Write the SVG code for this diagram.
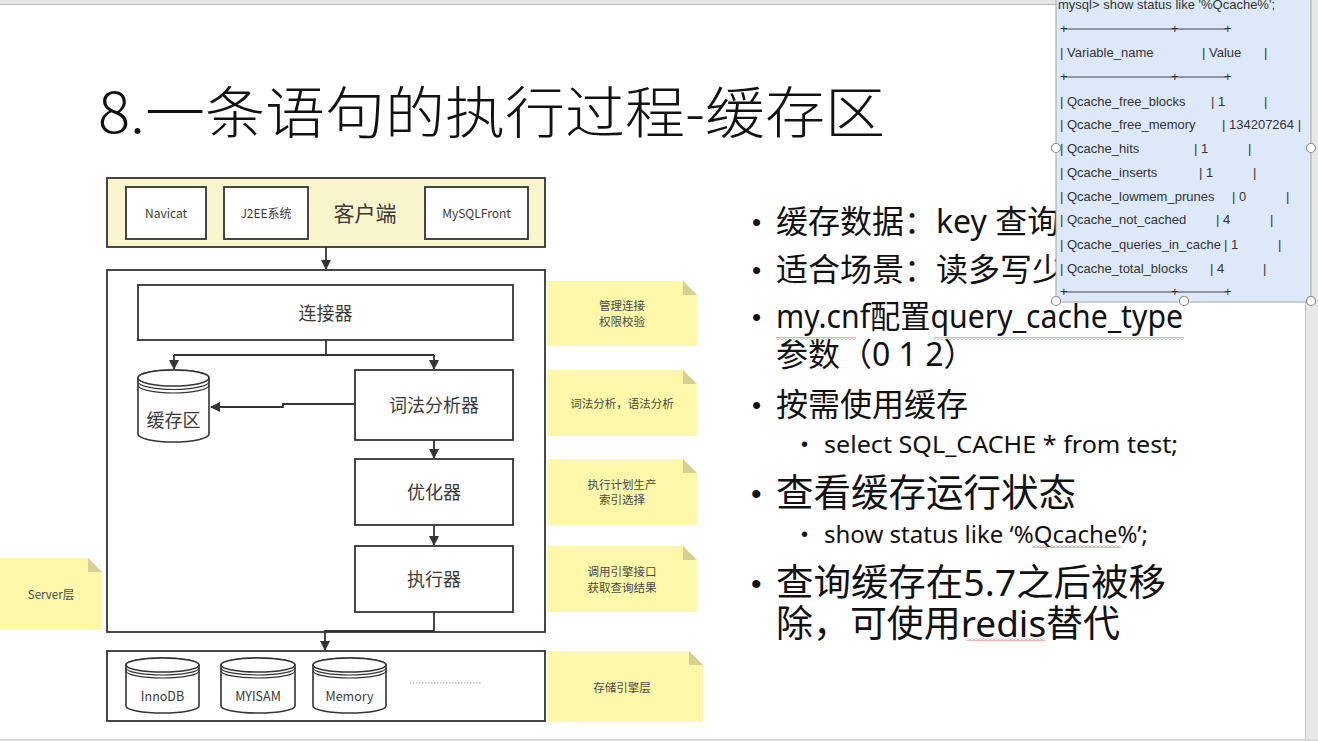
<svg xmlns="http://www.w3.org/2000/svg" width="1318" height="741" viewBox="0 0 1318 741">
<defs>
<style>
.cjk{font-family:"Noto Sans CJK SC","Noto Sans",sans-serif;}
.box{fill:#fff;stroke:#333;stroke-width:1.8;}
.lbl{font-family:"Noto Sans CJK SC","Noto Sans",sans-serif;fill:#3a3a3a;text-anchor:middle;}
.note{fill:#fcf7a9;}
.fold{fill:#d6d092;}
.ntxt{font-family:"Noto Sans CJK SC","Noto Sans",sans-serif;fill:#4a4a4a;font-size:11.5px;text-anchor:middle;}
.conn{fill:none;stroke:#333;stroke-width:1.8;}
.bul{font-family:"Noto Sans","Noto Sans CJK SC",sans-serif;fill:#111;}
.dot{font-family:"Liberation Sans",Arial,sans-serif;fill:#111;}
.mono{font-family:"Liberation Sans",Arial,sans-serif;font-size:13px;fill:#333;}
.cyl{fill:#fff;stroke:#333;stroke-width:1.6;}
.ring{fill:none;stroke:#333;stroke-width:1.2;}
</style>
<marker id="ah" viewBox="0 0 10 10" refX="9" refY="5" markerWidth="10" markerHeight="10" markerUnits="userSpaceOnUse" orient="auto">
<path d="M0,0 L10,5 L0,10 Z" fill="#333"/>
</marker>
<pattern id="sq" width="4" height="3" patternUnits="userSpaceOnUse">
<path d="M0,2.5 L2,0.5 L4,2.5" fill="none" stroke="#e03030" stroke-width="0.8"/>
</pattern>
</defs>
<rect width="1318" height="741" fill="#fff"/>
<!-- frame -->
<rect x="0" y="0" width="1318" height="4" fill="#e6e6e6"/>
<line x1="0" y1="4.5" x2="1318" y2="4.5" stroke="#bdbdbd" stroke-width="1"/>
<rect x="1305" y="0" width="13" height="741" fill="#e8e8e8"/>
<line x1="1305.5" y1="0" x2="1305.5" y2="741" stroke="#c4c4c4" stroke-width="1"/>
<rect x="0" y="739" width="1318" height="2" fill="#d8d8d8"/>

<!-- title -->
<text x="98" y="133" class="cjk" font-size="56" font-weight="300" fill="#111" textLength="787" lengthAdjust="spacingAndGlyphs">8.一条语句的执行过程-缓存区</text>

<!-- client layer -->
<g id="client">
<rect x="107" y="178" width="438" height="69" fill="#f9f5cc" stroke="#333" stroke-width="1.8"/>
<text x="365" y="221" class="lbl" font-size="21">客户端</text>
</g>
<g id="navicat"><rect x="126" y="187" width="80" height="52" class="box"/><text x="166" y="218" class="lbl" font-size="12">Navicat</text></g>
<g id="j2ee"><rect x="224" y="187" width="84" height="52" class="box"/><text x="266" y="218" class="lbl" font-size="12">J2EE系统</text></g>
<g id="mysqlfront"><rect x="425" y="187" width="103" height="52" class="box"/><text x="476.5" y="218" class="lbl" font-size="12">MySQLFront</text></g>

<!-- server layer -->
<g id="server"><rect x="107" y="270" width="438" height="362" class="box"/></g>
<g id="connector"><rect x="138" y="285" width="375" height="55" class="box"/><text x="325.5" y="320" class="lbl" font-size="18">连接器</text></g>
<g id="cache">
<path class="cyl" d="M138,378 A35.5,8 0 0 1 209,378 L209,434 A35.5,8 0 0 1 138,434 Z"/>
<ellipse cx="173.5" cy="378" rx="35.5" ry="8" class="cyl"/>
<path class="ring" d="M138,381.5 A35.5,8 0 0 0 209,381.5 M138,385 A35.5,8 0 0 0 209,385"/>
<text x="173.5" y="427" class="lbl" font-size="18">缓存区</text>
</g>
<g id="lexer"><rect x="355" y="370" width="158" height="70" class="box"/><text x="434" y="412" class="lbl" font-size="18">词法分析器</text></g>
<g id="optimizer"><rect x="355" y="459" width="158" height="66" class="box"/><text x="434" y="499" class="lbl" font-size="18">优化器</text></g>
<g id="executor"><rect x="355" y="546" width="158" height="66" class="box"/><text x="434" y="586" class="lbl" font-size="18">执行器</text></g>

<!-- storage layer -->
<g id="storage">
<rect x="107" y="651" width="438" height="70" class="box"/>
<line x1="410" y1="683" x2="482" y2="683" stroke="#999" stroke-width="1" stroke-dasharray="1.5,1.5"/>
</g>
<g id="innodb">
<path class="cyl" d="M126,665 A36.5,7 0 0 1 199,665 L199,706 A36.5,7 0 0 1 126,706 Z"/>
<ellipse cx="162.5" cy="665" rx="36.5" ry="7" class="cyl"/>
<path class="ring" d="M126,668 A36.5,7 0 0 0 199,668 M126,671 A36.5,7 0 0 0 199,671"/>
<text x="162.5" y="701" class="lbl" font-size="12.5">InnoDB</text>
</g>
<g id="myisam">
<path class="cyl" d="M221,665 A37,7 0 0 1 295,665 L295,706 A37,7 0 0 1 221,706 Z"/>
<ellipse cx="258" cy="665" rx="37" ry="7" class="cyl"/>
<path class="ring" d="M221,668 A37,7 0 0 0 295,668 M221,671 A37,7 0 0 0 295,671"/>
<text x="258" y="701" class="lbl" font-size="12.5">MYISAM</text>
</g>
<g id="memory">
<path class="cyl" d="M313,665 A36.5,7 0 0 1 386,665 L386,706 A36.5,7 0 0 1 313,706 Z"/>
<ellipse cx="349.5" cy="665" rx="36.5" ry="7" class="cyl"/>
<path class="ring" d="M313,668 A36.5,7 0 0 0 386,668 M313,671 A36.5,7 0 0 0 386,671"/>
<text x="349.5" y="701" class="lbl" font-size="12.5">Memory</text>
</g>

<!-- connectors -->
<g id="connectors">
<path class="conn" d="M326,247 L326,269" marker-end="url(#ah)"/>
<path class="conn" d="M326,340 L326,355 M174,355 L434,355"/>
<path class="conn" d="M174,355 L174,369" marker-end="url(#ah)"/>
<path class="conn" d="M434,355 L434,369" marker-end="url(#ah)"/>
<path class="conn" d="M355,404 L283,404 L283,407 L211,407" marker-end="url(#ah)"/>
<path class="conn" d="M434,440 L434,458" marker-end="url(#ah)"/>
<path class="conn" d="M434,525 L434,545" marker-end="url(#ah)"/>
<path class="conn" d="M434,612 L434,631 L325,631 L325,650" marker-end="url(#ah)"/>
</g>

<!-- sticky notes -->
<g id="note-conn"><path class="note" d="M547,281 L683,281 L697,295 L697,346 L547,346 Z"/><path class="fold" d="M683,281 L683,295 L697,295 Z"/><text class="ntxt" x="622" y="310">管理连接</text><text class="ntxt" x="622" y="326">权限校验</text></g>
<g id="note-lex"><path class="note" d="M547,370 L683,370 L697,384 L697,436 L547,436 Z"/><path class="fold" d="M683,370 L683,384 L697,384 Z"/><text class="ntxt" x="622" y="408">词法分析，语法分析</text></g>
<g id="note-opt"><path class="note" d="M547,459 L683,459 L697,473 L697,525 L547,525 Z"/><path class="fold" d="M683,459 L683,473 L697,473 Z"/><text class="ntxt" x="622" y="489">执行计划生产</text><text class="ntxt" x="622" y="504">索引选择</text></g>
<g id="note-exec"><path class="note" d="M547,546 L683,546 L697,560 L697,612 L547,612 Z"/><path class="fold" d="M683,546 L683,560 L697,560 Z"/><text class="ntxt" x="622" y="576">调用引擎接口</text><text class="ntxt" x="622" y="592">获取查询结果</text></g>
<g id="note-storage"><path class="note" d="M547,651 L689,651 L703,665 L703,722 L547,722 Z"/><path class="fold" d="M689,651 L689,665 L703,665 Z"/><text class="ntxt" x="622" y="692">存储引擎层</text></g>
<g id="note-server"><path class="note" d="M0,558 L88,558 L102,572 L102,630 L0,630 Z"/><path class="fold" d="M88,558 L88,572 L102,572 Z"/><text class="ntxt" x="51" y="599">Server层</text></g>

<!-- bullets -->
<g id="bullets">
<text class="dot" x="752" y="231" font-size="26">•</text>
<text class="bul" x="776" y="233" font-size="32">缓存数据：key 查询</text>
<text class="dot" x="752" y="279" font-size="26">•</text>
<text class="bul" x="776" y="281" font-size="32">适合场景：读多写少</text>
<text class="dot" x="752" y="326" font-size="26">•</text>
<text class="bul" x="776" y="328" font-size="32" textLength="407" lengthAdjust="spacingAndGlyphs">my.cnf配置query_cache_type</text>
<text class="bul" x="776" y="366" font-size="32">参数（0 1 2）</text>
<text class="dot" x="752" y="414" font-size="26">•</text>
<text class="bul" x="776" y="416" font-size="32">按需使用缓存</text>
<text class="dot" x="801" y="451" font-size="20">•</text>
<text class="bul" x="824" y="453" font-size="23" textLength="354" lengthAdjust="spacingAndGlyphs">select SQL_CACHE * from test;</text>
<text class="dot" x="751" y="504" font-size="30">•</text>
<text class="bul" x="776" y="506" font-size="37.5">查看缓存运行状态</text>
<text class="dot" x="801" y="541" font-size="20">•</text>
<text class="bul" x="824" y="543" font-size="23" textLength="324" lengthAdjust="spacingAndGlyphs">show status like ‘%Qcache%’;</text>
<text class="dot" x="751" y="594" font-size="30">•</text>
<text class="bul" x="776" y="596" font-size="37" textLength="390" lengthAdjust="spacingAndGlyphs">查询缓存在5.7之后被移</text>
<text class="bul" x="776" y="637" font-size="37" textLength="344" lengthAdjust="spacingAndGlyphs">除，可使用redis替代</text>
<rect x="776" y="337" width="80" height="3" fill="url(#sq)"/>
<rect x="934" y="337" width="250" height="3" fill="url(#sq)"/>
<rect x="1033" y="545" width="88" height="3" fill="url(#sq)"/>
<rect x="967" y="638" width="78" height="3" fill="url(#sq)"/>
</g>

<!-- overlay status box -->
<g id="status-box">
<rect x="1056" y="-2" width="255" height="304" fill="#dde9f8" stroke="#a6a6a6" stroke-width="1"/>
<text class="mono" x="1058" y="9">mysql&gt; show status like '%Qcache%';</text>
<g stroke="#444" stroke-width="1">
<line x1="1063" y1="29" x2="1227" y2="29"/><line x1="1063" y1="77" x2="1227" y2="77"/><line x1="1063" y1="292" x2="1227" y2="292"/>
</g>
<g class="mono" font-size="12">
<text x="1060" y="33">+</text><text x="1171" y="33">+</text><text x="1224" y="33">+</text>
<text x="1060" y="81">+</text><text x="1171" y="81">+</text><text x="1224" y="81">+</text>
<text x="1060" y="296">+</text><text x="1171" y="296">+</text><text x="1224" y="296">+</text>
</g>
<text class="mono" x="1060" y="57">| Variable_name</text><text class="mono" x="1202" y="57">| Value</text><text class="mono" x="1264" y="57">|</text>
<text class="mono" x="1060" y="106">| Qcache_free_blocks</text><text class="mono" x="1211" y="106">| 1</text><text class="mono" x="1264" y="106">|</text>
<text class="mono" x="1060" y="129">| Qcache_free_memory</text><text class="mono" x="1222" y="129">| 134207264 |</text>
<text class="mono" x="1060" y="153">| Qcache_hits</text><text class="mono" x="1194" y="153">| 1</text><text class="mono" x="1248" y="153">|</text>
<text class="mono" x="1060" y="177">| Qcache_inserts</text><text class="mono" x="1199" y="177">| 1</text><text class="mono" x="1253" y="177">|</text>
<text class="mono" x="1060" y="201">| Qcache_lowmem_prunes</text><text class="mono" x="1232" y="201">| 0</text><text class="mono" x="1286" y="201">|</text>
<text class="mono" x="1060" y="224">| Qcache_not_cached</text><text class="mono" x="1216" y="224">| 4</text><text class="mono" x="1270" y="224">|</text>
<text class="mono" x="1060" y="249">| Qcache_queries_in_cache</text><text class="mono" x="1224" y="249">| 1</text><text class="mono" x="1278" y="249">|</text>
<text class="mono" x="1060" y="273">| Qcache_total_blocks</text><text class="mono" x="1210" y="273">| 4</text><text class="mono" x="1263" y="273">|</text>
<g fill="#fff" stroke="#8a8a8a" stroke-width="1.2">
<circle cx="1056" cy="148" r="4.5"/><circle cx="1311" cy="148" r="4.5"/>
<circle cx="1056" cy="301" r="4.5"/><circle cx="1184" cy="301" r="4.5"/><circle cx="1311" cy="301" r="4.5"/>
</g>
</g>
</svg>
